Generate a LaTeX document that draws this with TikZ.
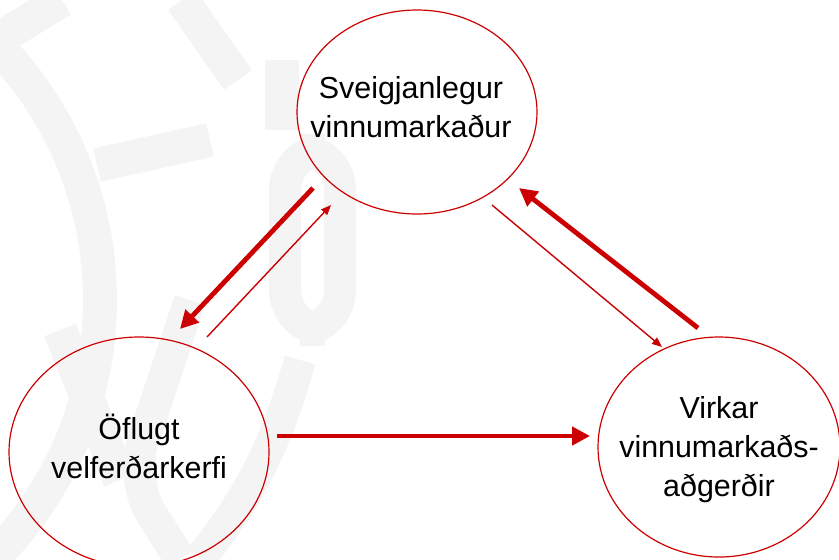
\documentclass[tikz,border=0pt]{standalone}
\usepackage{fontspec}
\setmainfont{Liberation Sans}
\usetikzlibrary{arrows.meta,shapes.geometric}
\definecolor{redc}{HTML}{CC0000}
\definecolor{wm}{HTML}{F4F4F4}
\tikzset{
  x=0.5pt, y=-0.5pt,
  circ/.style={draw=redc, line width=0.6pt, ellipse, inner sep=0pt},
  lbl/.style={align=center, font=\fontsize{15.2}{19.5}\selectfont},
  thick arr/.style={draw=redc, line width=2.4pt, -{Triangle[length=9pt,width=9pt]}},
  thin arr/.style={draw=redc, line width=0.7pt, -{Triangle[length=5pt,width=4pt]}},
  wmark/.style={draw=wm, line width=17pt}
}
\begin{document}
\begin{tikzpicture}
\useasboundingbox (0,0) rectangle (839,559);
\begin{scope}
\clip (0,0) rectangle (839,559);
% watermark
\draw[wmark] (-265,300) circle[radius=182.5pt];
\draw[wmark] (97,165) -- (210,140);
\draw[wmark] (0,38) -- (62,0);
\draw[wmark] (182,0) -- (238,80);
\draw[wmark] (282,60) -- (282,130);
\draw[wmark, line width=16pt, rounded corners=20pt] (285,150) rectangle (340,330);
\draw[wmark, line width=16pt, rounded corners=20pt] (190,300) -- (130,480) -- (180,559);
\draw[wmark] (60,330) -- (120,480);
\draw[wmark, line width=16pt] (300,360) .. controls (270,470) and (230,520) .. (200,559);
\end{scope}
% nodes
\node[circ, minimum width=120pt, minimum height=102pt] (top) at (417,112) {};
\node[lbl] (toptxt) at (411,107) {Sveigjanlegur\\vinnumarkaður};
\node[circ, minimum width=130pt, minimum height=115pt] (left) at (139,452) {};
\node[lbl] (lefttxt) at (139,446) {Öflugt\\velferðarkerfi};
\node[circ, minimum width=121pt, minimum height=110pt] (right) at (719,447) {};
\node[lbl] (righttxt) at (719,450) {Virkar\\vinnumarkaðs-\\aðgerðir};
% connector endpoints
\coordinate (a1) at (313,188); \coordinate (a2) at (180,329);
\coordinate (b1) at (207,337); \coordinate (b2) at (331,205);
\coordinate (c1) at (492,205); \coordinate (c2) at (662,347);
\coordinate (d1) at (698,328); \coordinate (d2) at (519,188);
\coordinate (e1) at (277,436); \coordinate (e2) at (590,436);
\draw[thick arr] (a1) -- (a2);
\draw[thin arr] (b1) -- (b2);
\draw[thin arr] (c1) -- (c2);
\draw[thick arr] (d1) -- (d2);
\draw[thick arr] (e1) -- (e2);
\end{tikzpicture}
\end{document}
